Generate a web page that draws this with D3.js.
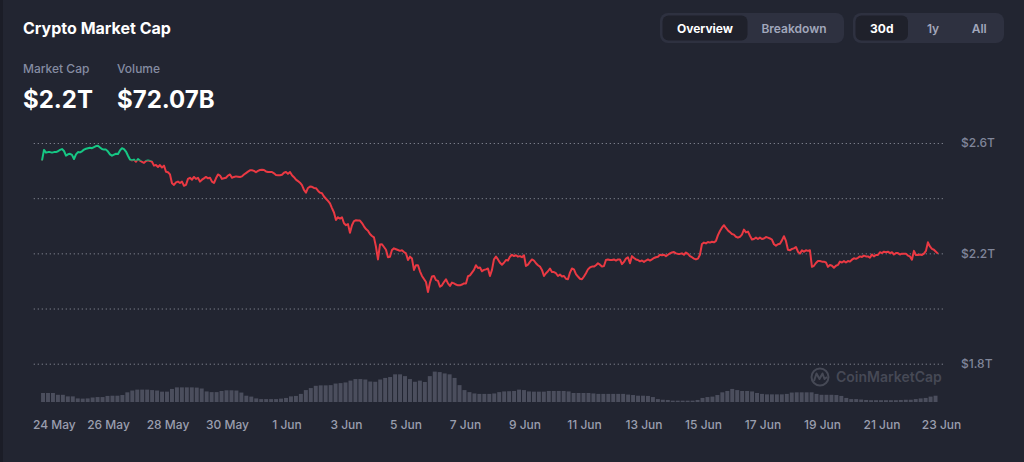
<!DOCTYPE html>
<html><head><meta charset="utf-8">
<script src="https://cdn.jsdelivr.net/npm/d3@7"></script>
<style>
html,body{margin:0;padding:0;background:#222531;overflow:hidden;}
svg{display:block;font-family:Inter,"Noto Sans",sans-serif;}
</style></head><body>
<svg id="chart" width="1024" height="462"></svg>
<script>
// ---------- data ----------
const chartTitle = "Crypto Market Cap";
const statLabels = ["Market Cap", "Volume"];
const statValues = ["$2.2T", "$72.07B"];
const viewTabs = ["Overview", "Breakdown"];
const rangeTabs = ["30d", "1y", "All"];
const yTickValues = [1800, 2000, 2200, 2400, 2600];           // billions USD
const yTickLabels = ["$1.8T", "", "$2.2T", "", "$2.6T"];
const xTickDates = ["2024-05-24","2024-05-26","2024-05-28","2024-05-30","2024-06-01","2024-06-03",
  "2024-06-05","2024-06-07","2024-06-09","2024-06-11","2024-06-13","2024-06-15","2024-06-17",
  "2024-06-19","2024-06-21","2024-06-23"];
const watermark = "CoinMarketCap";

// market cap (billions USD), one reading every 96.8 minutes from 23 May 18:45
const capStart = "2024-05-23T18:45:00";
const capStepMinutes = 96.8;
const capValues = [
2536,2575,2565,2567,2567,2565,2567,2567,2570,2575,
2578,2571,2554,2559,2561,2557,2542,2559,2567,2566,
2570,2576,2579,2581,2583,2581,2585,2589,2590,2584,
2578,2576,2576,2569,2559,2554,2558,2561,2560,2573,
2581,2578,2569,2554,2540,2537,2540,2532,2542,2536,
2532,2528,2535,2537,2535,2532,2518,2520,2513,2520,
2511,2518,2496,2494,2486,2454,2448,2457,2460,2455,
2460,2445,2448,2470,2474,2467,2477,2470,2474,2460,
2467,2472,2477,2472,2474,2460,2455,2472,2486,2482,
2470,2472,2474,2482,2486,2474,2477,2479,2478,2477,
2479,2486,2491,2496,2501,2501,2499,2494,2499,
2502,2503,2502,2497,2495,2495,2495,2490,2484,2483,
2483,2485,2492,2495,2488,2495,2483,2476,2467,2462,
2456,2447,2430,2420,2437,2442,2441,2437,2436,2427,
2420,2418,2406,2398,2390,2381,2364,2348,2321,2331,
2326,2331,2309,2302,2306,2275,2302,2317,2320,2319,
2319,2310,2298,2288,2282,2270,2263,2258,2224,2178,
2232,2233,2223,2213,2186,2188,2212,2218,2215,2212,
2209,2211,2205,2200,2176,2188,2181,2140,2157,2157,
2135,2118,2107,2096,2060,2094,2116,2118,2103,2100,
2079,2084,2096,2106,2091,2082,2094,2091,2087,2084,
2084,2087,2091,2091,2117,2120,2130,2140,2157,2147,
2149,2135,2140,2142,2145,2118,
2140,2178,2188,2178,2166,2159,2166,2176,2174,2188,
2195,2190,2193,2188,2190,2186,2193,2154,2159,2169,
2178,2174,2164,2157,2152,2140,2118,2128,2135,2145,
2132,2132,2128,2118,2123,2116,2118,2108,2106,2130,
2145,2142,2125,2116,2108,2106,2116,2128,2142,2149,
2152,2152,2157,2164,2159,2152,2154,2176,2178,2176,
2176,2178,2174,2178,2178,2161,2169,2181,2186,2164,
2190,2183,2178,2176,2171,2174,2169,2174,2178,2174,
2178,2183,2186,2188,2195,2193,2195,2190,2195,2200,
2203,2205,2200,2198,2198,2200,2195,2203,2198,2190,
2186,2181,2178,2181,2195,2234,2239,2236,2241,2239,
2242,2240,2245,2266,2281,2293,2302,2292,2283,2277,
2270,2268,2260,2257,2260,2268,2286,2276,2279,2264,
2250,2252,2257,2252,2257,2252,2254,2259,2257,2254,
2250,2233,2228,2233,2235,2247,2262,2245,2213,2211,
2216,2218,2223,2206,2199,2211,2206,2211,2209,2211,
2151,2155,2165,2172,2172,2170,2170,2167,2151,2158,
2155,2148,2155,2158,2170,2167,2172,2167,2172,2170,
2177,2182,2180,2184,2189,2187,2192,2189,2189,2184,
2196,2189,2194,2194,2204,2201,2206,2204,2206,2201,
2204,2196,2201,2201,2196,2199,2199,2199,2192,2189,
2177,2209,2194,2194,2196,2194,2199,2209,2240,2225,
2216,2213,2206,2199
];

// volume (billions USD), one bar every 4 hours from 23 May 18:00
const volStart = "2024-05-23T18:00:00";
const volStepHours = 4;
const volValues = [
80,80,80,72,72,65,65,56,55,56,60,62,62,67,68,68,71,83,91,95,
95,95,93,91,86,86,98,105,105,105,105,104,100,87,84,84,89,92,92,91,
82,68,64,56,53,53,53,53,55,58,65,67,76,93,102,112,114,114,115,122,
124,127,135,142,142,140,131,130,140,147,151,163,163,155,142,130,135,129,155,175,
173,167,163,147,115,93,84,78,76,76,76,78,84,87,88,89,95,93,87,86,
86,86,89,89,89,89,87,80,80,80,80,78,76,76,76,76,76,76,73,71,
68,68,67,62,53,50,49,46,46,46,46,46,49,58,62,64,71,83,89,98,
93,89,89,87,80,76,74,74,74,74,76,82,83,83,83,83,76,72,72,72,
71,67,58,53,53,51,49,48,48,48,48,48,48,49,50,50,53,56,58,64,
68
];

// ---------- chart ----------
const W = 1024, H = 462;
const svg = d3.select("#chart");
const parse = d3.isoParse;

const capData = capValues.map((v, i) => ({
  t: new Date(parse(capStart).getTime() + i * capStepMinutes * 60000), v }));
const volData = volValues.map((v, i) => ({
  t: new Date(parse(volStart).getTime() + i * volStepHours * 3600000), v }));

const x = d3.scaleTime()
  .domain([parse("2024-05-24T00:00:00"), parse("2024-06-23T00:00:00")])
  .range([48.5, 941]);
const y = d3.scaleLinear().domain([1800, 2600]).range([363.7, 143]);
const yVol = d3.scaleLinear().domain([40, 200]).range([402, 366]);

// background
svg.append("rect").attr("width", W).attr("height", H).attr("fill", "#222531");
svg.append("rect").attr("width", 3).attr("height", H).attr("fill", "#1b1d27");

// header
svg.append("text").attr("x", 23).attr("y", 34).text(chartTitle)
  .attr("fill", "#ffffff").attr("font-size", 16).attr("font-weight", 700);
const statX = [23, 117];
statLabels.forEach((s, i) => {
  svg.append("text").attr("x", statX[i]).attr("y", 73).text(s)
    .attr("fill", "#858ca2").attr("font-size", 12).attr("font-weight", 500);
  svg.append("text").attr("x", statX[i]).attr("y", 107.5).text(statValues[i])
    .attr("fill", "#ffffff").attr("font-size", 24).attr("font-weight", 700);
});

// tab groups
function tabGroup(labels, x0, widths) {
  const total = widths.reduce((a, b) => a + b, 0) + 6;
  const g = svg.append("g");
  g.append("rect").attr("x", x0).attr("y", 13).attr("width", total).attr("height", 30)
    .attr("rx", 8).attr("fill", "#2e3140");
  let cx = x0 + 2.5;
  labels.forEach((l, i) => {
    if (i === 0) {
      g.append("rect").attr("x", cx).attr("y", 15.5).attr("width", widths[i]).attr("height", 25)
        .attr("rx", 6).attr("fill", "#1f212b");
    }
    g.append("text").attr("x", cx + widths[i] / 2).attr("y", 32.5).attr("text-anchor", "middle")
      .text(l).attr("font-size", 12).attr("font-weight", i === 0 ? 700 : 600)
      .attr("fill", i === 0 ? "#ffffff" : "#a1a7bb");
    cx += widths[i];
  });
}
tabGroup(viewTabs, 660, [85, 93]);
tabGroup(rangeTabs, 853, [52.5, 50, 42.5]);

// y axis with dotted gridlines
const yAxis = d3.axisRight(y).tickValues(yTickValues)
  .tickFormat((d, i) => yTickLabels[i]).tickSize(-911).tickPadding(18);
const gy = svg.append("g").attr("transform", "translate(943,0)").call(yAxis);
gy.select(".domain").remove();
gy.selectAll(".tick line").attr("stroke", "#8a8d99").attr("stroke-width", 1)
  .attr("stroke-dasharray", "1.3,2.7").attr("opacity", 0.85);
gy.selectAll(".tick text").attr("fill", "#80869a").attr("font-size", 12)
  .attr("font-family", "Inter,'Noto Sans',sans-serif").attr("font-weight", 500);

// volume bars
svg.append("g").selectAll("rect").data(volData).join("rect")
  .attr("x", d => x(d.t))
  .attr("width", d => Math.max(0.5, x(d3.timeHour.offset(d.t, volStepHours)) - x(d.t) - 1))
  .attr("y", d => yVol(d.v))
  .attr("height", d => yVol.range()[0] - yVol(d.v))
  .attr("fill", "#4b4e5d");

// watermark
const wm = svg.append("g").attr("opacity", 0.9);
wm.append("circle").attr("cx", 820).attr("cy", 377).attr("r", 8.5)
  .attr("fill", "none").attr("stroke", "#4a4d5a").attr("stroke-width", 2);
wm.append("path").attr("d", "M814,381 L816.5,373.5 L819.5,379 L822.5,373.5 L824.5,379 L827,377")
  .attr("fill", "none").attr("stroke", "#4a4d5a").attr("stroke-width", 2).attr("stroke-linejoin", "round");
wm.append("text").attr("x", 836).attr("y", 382).text(watermark)
  .attr("fill", "#4a4d5a").attr("font-size", 14).attr("font-weight", 600);

// x axis
const xAxis = d3.axisBottom(x).tickValues(xTickDates.map(parse))
  .tickFormat(d3.timeFormat("%-d %b")).tickSize(0).tickPadding(8);
const gx = svg.append("g").attr("transform", "translate(0,412)").call(xAxis);
gx.select(".domain").remove();
gx.selectAll(".tick text").attr("fill", "#9a9eae").attr("font-size", 12)
  .attr("font-family", "Inter,'Noto Sans',sans-serif").attr("font-weight", 500);
gx.selectAll(".tick text").each(function () {
  const tick = this.parentNode;
  const tx = +d3.select(tick).attr("transform").match(/translate\(([-\d.]+)/)[1];
  const w = this.getComputedTextLength();
  if (tx - w / 2 < 33) d3.select(this).attr("x", 33 + w / 2 - tx);
});

// market cap line, green above the opening value, red below
const base = y(capValues[0]);
const defs = svg.append("defs");
defs.append("clipPath").attr("id", "above").append("rect")
  .attr("x", 0).attr("y", 0).attr("width", W).attr("height", base);
defs.append("clipPath").attr("id", "below").append("rect")
  .attr("x", 0).attr("y", base).attr("width", W).attr("height", H - base);
const line = d3.line().x(d => x(d.t)).y(d => y(d.v));
[["above", "#16c784"], ["below", "#ea3943"]].forEach(([id, c]) => {
  svg.append("path").datum(capData).attr("d", line).attr("clip-path", `url(#${id})`)
    .attr("fill", "none").attr("stroke", c).attr("stroke-width", 2)
    .attr("stroke-linejoin", "round");
});
</script>
</body></html>
